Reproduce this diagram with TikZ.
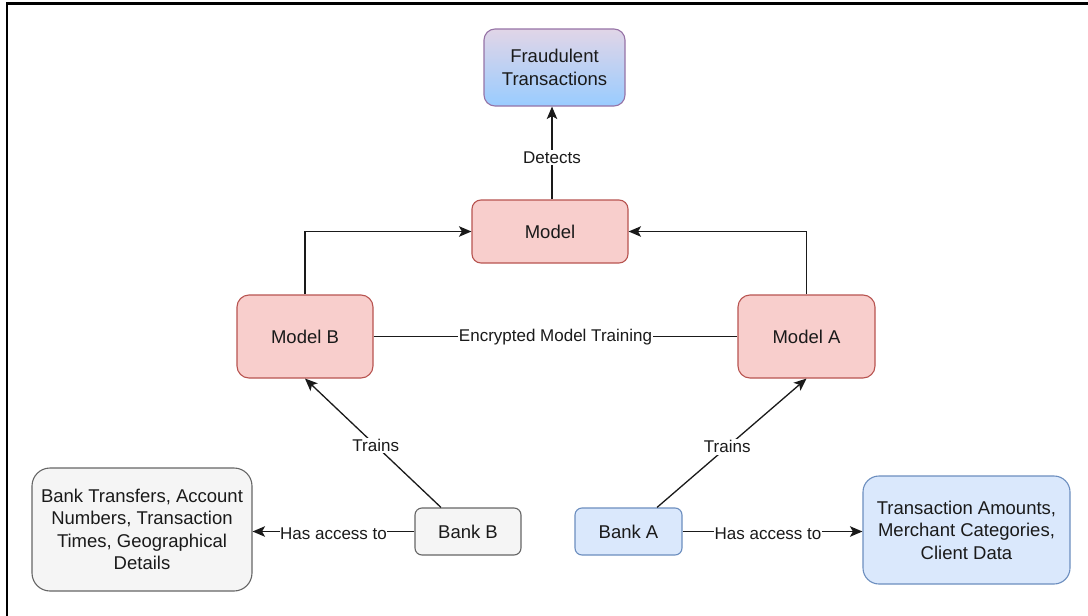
\documentclass[tikz,border=0pt]{standalone}
\usepackage{fontspec}
\setmainfont{Liberation Sans}
\usetikzlibrary{arrows.meta,calc}

\definecolor{redfill}{HTML}{F8CECC}
\definecolor{redline}{HTML}{B85450}
\definecolor{bluefill}{HTML}{DAE8FC}
\definecolor{blueline}{HTML}{6C8EBF}
\definecolor{grayfill}{HTML}{F5F5F5}
\definecolor{grayline}{HTML}{666666}
\definecolor{purptop}{HTML}{E1D5E7}
\definecolor{purpbot}{HTML}{99CCFF}
\definecolor{purpline}{HTML}{9673A6}
\definecolor{inktext}{HTML}{1A1A1A}

\tikzset{
  box/.style={draw, line width=1.1pt, align=center, inner sep=0pt,
    text=inktext, font=\fontsize{18.5}{22.5}\selectfont},
  redbox/.style={box, fill=redfill, draw=redline},
  bluebox/.style={box, fill=bluefill, draw=blueline},
  graybox/.style={box, fill=grayfill, draw=grayline},
  arr/.style={draw=inktext, line width=1.3pt,
    -{Stealth[length=12.5pt,width=10.5pt,inset=3pt]}},
  plain/.style={draw=inktext, line width=1.3pt},
  lbl/.style={fill=white, inner xsep=0.6pt, inner ysep=1.5pt, text=inktext,
    font=\fontsize{17}{20}\selectfont}
}

\begin{document}
\begin{tikzpicture}[x=1pt,y=-1pt]
  % canvas and page frame
  \fill[white] (0,0) rectangle (1088,616);
  \useasboundingbox (0,0) rectangle (1088,616);
  \draw[line width=2.6pt] (7,616) -- (7,3.5) -- (1088,3.5);

  % nodes
  \node[box, draw=purpline, top color=purptop, bottom color=purpbot,
        rounded corners=11pt, minimum width=141pt, minimum height=77pt]
        (fraud) at (554.5,67.5) {Fraudulent\\Transactions};
  \node[redbox, rounded corners=9pt, minimum width=156pt, minimum height=63pt]
        (model) at (550,231.5) {Model};
  \node[redbox, rounded corners=12pt, minimum width=136pt, minimum height=83pt]
        (modelB) at (305,336.5) {Model B};
  \node[redbox, rounded corners=12pt, minimum width=137pt, minimum height=83pt]
        (modelA) at (806.5,336.5) {Model A};
  \node[graybox, rounded corners=7pt, minimum width=106pt, minimum height=47pt]
        (bankB) at (468,531.5) {Bank B};
  \node[bluebox, rounded corners=7pt, minimum width=107pt, minimum height=47pt]
        (bankA) at (628.5,531.5) {Bank A};
  \node[graybox, rounded corners=18pt, minimum width=220pt, minimum height=123pt]
        (dataB) at (142,529.5)
        {Bank Transfers, Account\\Numbers, Transaction\\Times, Geographical\\Details};
  \node[bluebox, rounded corners=16pt, minimum width=207pt, minimum height=108pt]
        (dataA) at (966.5,530)
        {Transaction Amounts,\\Merchant Categories,\\Client Data};

  % connectors
  \draw[arr] ([xshift=2pt]model.north) -- ([xshift=-2.5pt]fraud.south)
        node[lbl, pos=0.45] {Detects};
  \draw[arr] (modelB.north) |- (model.west);
  \draw[arr] (modelA.north) |- (model.east);
  \draw[plain] (modelB.east) -- (modelA.west)
        node[lbl, pos=0.5, yshift=-1pt] {Encrypted Model Training};
  \draw[arr] ([xshift=-27pt]bankB.north) -- (modelB.south)
        node[lbl, pos=0.48] {Trains};
  \draw[arr] ([xshift=28.5pt]bankA.north) -- (modelA.south)
        node[lbl, pos=0.47] {Trains};
  \draw[arr] (bankB.west) -- (bankB.west -| dataB.east)
        node[lbl, pos=0.5, yshift=-2pt] {Has access to};
  \draw[arr] (bankA.east) -- (bankA.east -| dataA.west)
        node[lbl, pos=0.475, yshift=-2pt] {Has access to};
\end{tikzpicture}
\end{document}
